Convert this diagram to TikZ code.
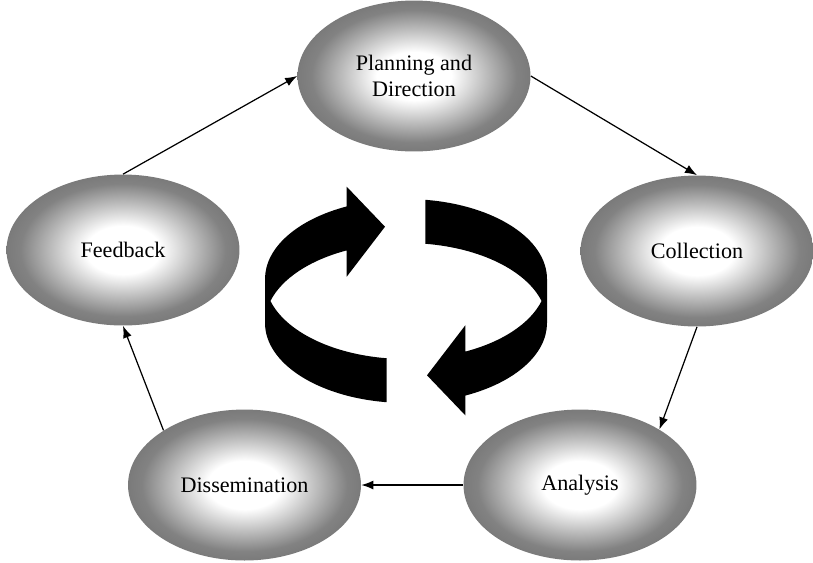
\documentclass[tikz,border=0pt]{standalone}
\usepackage{fontspec}
\setmainfont{Liberation Serif}
\usetikzlibrary{shapes.geometric,arrows.meta}
\pgfdeclareradialshading{stageshade}{\pgfpointorigin}{color(0bp)=(white); color(8bp)=(white); color(22bp)=(black!49); color(25bp)=(black!52); color(50bp)=(black!52)}

\begin{document}
\begin{tikzpicture}[
    x=0.02cm, y=-0.02cm,
    stage/.style={ellipse,shading=stageshade,minimum width=4.66cm,minimum height=3.02cm,inner sep=0pt,align=center,font=\fontsize{12.6}{15}\selectfont},
    ring/.style={x radius=141,y radius=80},
    tip/.style={-{Latex[length=2.4mm,width=1.8mm]}}
    ]
    \useasboundingbox (0,0) rectangle (813,562);

    \node[stage] (plan) at (414,76) {Planning and\\Direction};
    \node[stage] (coll) at (697,251) {Collection};
    \node[stage] (anal) at (580,485) {Analysis};
    \node[stage] (diss) at (244.5,485) {Dissemination};
    \node[stage] (feed) at (123,250) {Feedback};

    % the two turning arrows in the middle
    \foreach \r in {0,180}
      \fill[rotate around={\r:(406,301)}] (386.7,358.2) -- (386.7,402.2)
        arc[ring,start angle=97.87,end angle=180] -- (265,279)
        arc[ring,start angle=180,end angle=245.13]
        -- (346.7,186.7) -- (385,226.7) -- (346.7,276.7) -- (346.7,250.4)
        arc[ring,start angle=245.13,end angle=195.96]
        arc[ring,start angle=164.04,end angle=97.87] -- cycle;

    \path[line width=0.7pt] (plan.east) edge[tip] (coll.north)
    (coll.south) edge[tip] (anal.35)
    (anal.west) edge[tip] (diss.east)
    (diss.146) edge[tip] (feed.south)
    (feed.north) edge[tip] (plan.west)
    ;

\end{tikzpicture}
\end{document}
